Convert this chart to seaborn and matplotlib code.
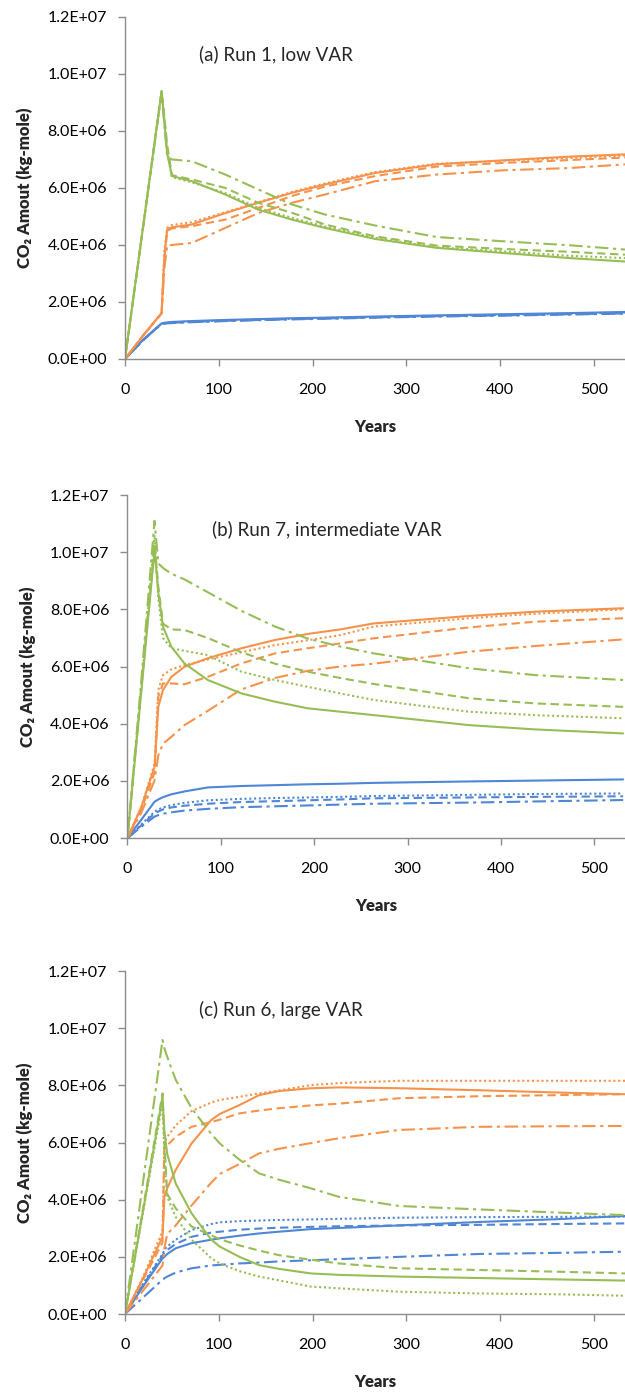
import matplotlib
matplotlib.use("Agg")
import matplotlib.pyplot as plt
from matplotlib.ticker import FuncFormatter, MultipleLocator
import pandas as pd
import seaborn as sns

# CO2 amounts are listed in millions of kg-mole
MILLION = 1e6

# ---- (a) Run 1, low VAR ----
years_a = [0, 20, 39, 42, 45, 50, 71, 107, 142, 178, 213, 267, 332, 403, 474, 533]
a_green_solid = [0, 4.82, 9.4, 8.3, 7.2, 6.42, 6.24, 5.77, 5.24, 4.89, 4.6, 4.21, 3.9, 3.72, 3.54, 3.42]
a_green_dotted = [0, 4.82, 9.4, 8.4, 7.3, 6.38, 6.2, 5.82, 5.3, 4.95, 4.65, 4.25, 3.92, 3.78, 3.62, 3.54]
a_green_dashed = [0, 4.8, 9.35, 8.5, 7.5, 6.45, 6.3, 6.0, 5.48, 5.13, 4.72, 4.3, 3.98, 3.86, 3.76, 3.66]
a_green_dashdot = [0, 4.8, 9.35, 8.2, 7.1, 7.0, 6.94, 6.47, 5.95, 5.42, 5.07, 4.68, 4.28, 4.13, 3.99, 3.84]
a_orange_solid = [0, 0.85, 1.61, 3.6, 4.55, 4.62, 4.72, 5.12, 5.48, 5.83, 6.12, 6.53, 6.83, 6.97, 7.1, 7.18]
a_orange_dotted = [0, 0.85, 1.61, 3.8, 4.6, 4.7, 4.8, 5.15, 5.5, 5.86, 6.16, 6.56, 6.85, 6.95, 7.05, 7.14]
a_orange_dashed = [0, 0.85, 1.6, 3.5, 4.5, 4.58, 4.66, 4.89, 5.3, 5.72, 6.05, 6.42, 6.75, 6.88, 6.98, 7.07]
a_orange_dashdot = [0, 0.85, 1.6, 3.2, 3.98, 4.0, 4.07, 4.6, 5.12, 5.48, 5.77, 6.24, 6.47, 6.62, 6.7, 6.83]
a_blue_solid = [0, 0.7, 1.25, 1.27, 1.28, 1.3, 1.33, 1.37, 1.4, 1.43, 1.45, 1.49, 1.53, 1.57, 1.61, 1.65]
a_blue_dotted = [0, 0.69, 1.24, 1.26, 1.27, 1.29, 1.31, 1.35, 1.38, 1.41, 1.44, 1.47, 1.51, 1.55, 1.59, 1.63]
a_blue_dashed = [0, 0.68, 1.23, 1.25, 1.26, 1.27, 1.3, 1.34, 1.37, 1.4, 1.42, 1.46, 1.5, 1.53, 1.57, 1.6]
a_blue_dashdot = [0, 0.68, 1.23, 1.24, 1.25, 1.26, 1.29, 1.33, 1.36, 1.39, 1.41, 1.45, 1.49, 1.52, 1.56, 1.59]

# ---- (b) Run 7, intermediate VAR ----
years_b = [0, 15, 29, 33, 38, 47, 61, 86, 122, 158, 193, 228, 264, 366, 437, 531]
b_green_solid = [0, 5.2, 10.08, 8.6, 7.4, 6.69, 6.11, 5.53, 5.06, 4.77, 4.54, 4.42, 4.3, 3.95, 3.8, 3.66]
b_green_dotted = [0, 5.4, 10.6, 8.4, 7.0, 6.64, 6.55, 6.4, 5.82, 5.53, 5.29, 5.06, 4.83, 4.42, 4.3, 4.19]
b_green_dashed = [0, 5.3, 10.3, 8.8, 7.5, 7.3, 7.28, 7.0, 6.5, 6.1, 5.82, 5.6, 5.39, 4.89, 4.71, 4.59]
b_green_dashdot = [0, 5.6, 11.1, 9.61, 9.45, 9.25, 9.05, 8.6, 7.95, 7.4, 6.98, 6.7, 6.46, 5.94, 5.7, 5.53]
b_orange_solid = [0, 1.1, 2.49, 4.59, 5.18, 5.64, 5.99, 6.29, 6.64, 6.93, 7.14, 7.3, 7.51, 7.77, 7.92, 8.04]
b_orange_dotted = [0, 1.1, 2.6, 5.18, 5.7, 5.9, 6.05, 6.25, 6.5, 6.75, 6.92, 7.1, 7.4, 7.69, 7.85, 8.0]
b_orange_dashed = [0, 1.0, 2.3, 4.94, 5.41, 5.41, 5.38, 5.64, 6.11, 6.46, 6.64, 6.81, 6.99, 7.37, 7.57, 7.69]
b_orange_dashdot = [0, 0.9, 2.02, 2.9, 3.3, 3.54, 3.95, 4.45, 5.2, 5.6, 5.85, 6.0, 6.1, 6.52, 6.72, 6.95]
b_blue_solid = [0, 0.65, 1.27, 1.35, 1.43, 1.53, 1.63, 1.77, 1.82, 1.85, 1.88, 1.9, 1.93, 1.98, 2.01, 2.05]
b_blue_dotted = [0, 0.48, 0.92, 1.0, 1.07, 1.15, 1.23, 1.32, 1.37, 1.4, 1.42, 1.44, 1.47, 1.51, 1.54, 1.56]
b_blue_dashed = [0, 0.45, 0.86, 0.93, 1.0, 1.07, 1.13, 1.2, 1.26, 1.29, 1.32, 1.35, 1.39, 1.42, 1.44, 1.46]
b_blue_dashdot = [0, 0.4, 0.75, 0.8, 0.85, 0.9, 0.96, 1.02, 1.08, 1.11, 1.14, 1.17, 1.2, 1.24, 1.28, 1.33]

# ---- (c) Run 6, large VAR ----
years_c = [0, 20, 40, 42, 45, 54, 71, 92, 101, 122, 143, 164, 198, 228, 292, 377, 462, 533]
c_green_solid = [0, 3.75, 7.6, 6.4, 5.6, 4.57, 3.52, 2.6, 2.36, 2.0, 1.71, 1.58, 1.42, 1.37, 1.31, 1.26, 1.21, 1.17]
c_green_dotted = [0, 3.7, 7.4, 5.5, 4.1, 3.4, 2.6, 1.95, 1.77, 1.5, 1.31, 1.18, 0.96, 0.9, 0.78, 0.72, 0.69, 0.64]
c_green_dashed = [0, 3.85, 7.72, 6.0, 4.2, 3.7, 3.06, 2.75, 2.62, 2.4, 2.22, 2.06, 1.9, 1.77, 1.6, 1.54, 1.48, 1.42]
c_green_dashdot = [0, 4.8, 9.59, 9.3, 9.0, 8.2, 7.2, 6.3, 5.97, 5.4, 4.92, 4.7, 4.4, 4.1, 3.78, 3.66, 3.55, 3.46]
c_orange_solid = [0, 1.3, 2.7, 4.1, 4.4, 5.04, 5.97, 6.79, 7.0, 7.31, 7.66, 7.8, 7.9, 7.93, 7.9, 7.83, 7.75, 7.69]
c_orange_dotted = [0, 1.35, 2.9, 6.0, 6.2, 6.6, 7.1, 7.4, 7.49, 7.6, 7.72, 7.82, 8.01, 8.08, 8.16, 8.16, 8.16, 8.16]
c_orange_dashed = [0, 1.25, 2.5, 5.8, 5.9, 6.2, 6.55, 6.72, 6.8, 7.02, 7.12, 7.2, 7.3, 7.36, 7.55, 7.62, 7.66, 7.69]
c_orange_dashdot = [0, 0.85, 1.7, 2.3, 2.8, 3.1, 3.8, 4.6, 4.9, 5.25, 5.62, 5.78, 5.98, 6.15, 6.44, 6.55, 6.57, 6.58]
c_blue_solid = [0, 1.0, 1.95, 2.0, 2.1, 2.3, 2.48, 2.6, 2.65, 2.74, 2.82, 2.88, 2.97, 3.01, 3.1, 3.22, 3.32, 3.43]
c_blue_dotted = [0, 1.1, 2.1, 2.25, 2.36, 2.6, 2.94, 3.15, 3.21, 3.25, 3.27, 3.29, 3.31, 3.33, 3.37, 3.39, 3.4, 3.41]
c_blue_dashed = [0, 1.05, 2.05, 2.15, 2.24, 2.45, 2.7, 2.85, 2.88, 2.95, 2.99, 3.02, 3.05, 3.07, 3.1, 3.12, 3.15, 3.17]
c_blue_dashdot = [0, 0.6, 1.2, 1.25, 1.31, 1.45, 1.6, 1.7, 1.72, 1.77, 1.8, 1.84, 1.88, 1.92, 2.0, 2.1, 2.14, 2.18]

panel_titles = ["(a) Run 1, low VAR", "(b) Run 7, intermediate VAR", "(c) Run 6, large VAR"]
title_anchor_years = [79, 91, 79]
title_anchor_values = [10.7, 10.8, 10.64]

palette = {"green": "#97BD55", "orange": "#F7924A", "blue": "#4F86D6"}
dashes = {"solid": "", "dotted": (1.0, 1.3), "dashed": (4.0, 2.2), "dashdot": (6.5, 2.2, 1.5, 2.2)}


def long_frame(years, series):
    rows = []
    for (pool, case), values in series.items():
        for yr, v in zip(years, values):
            rows.append((pool, case, yr, v * MILLION))
    return pd.DataFrame(rows, columns=["pool", "case", "year", "amount"])


panels = [
    (years_a, {
        ("blue", "solid"): a_blue_solid, ("blue", "dotted"): a_blue_dotted,
        ("blue", "dashed"): a_blue_dashed, ("blue", "dashdot"): a_blue_dashdot,
        ("orange", "solid"): a_orange_solid, ("orange", "dotted"): a_orange_dotted,
        ("orange", "dashed"): a_orange_dashed, ("orange", "dashdot"): a_orange_dashdot,
        ("green", "solid"): a_green_solid, ("green", "dotted"): a_green_dotted,
        ("green", "dashed"): a_green_dashed, ("green", "dashdot"): a_green_dashdot,
    }),
    (years_b, {
        ("blue", "solid"): b_blue_solid, ("blue", "dotted"): b_blue_dotted,
        ("blue", "dashed"): b_blue_dashed, ("blue", "dashdot"): b_blue_dashdot,
        ("orange", "solid"): b_orange_solid, ("orange", "dotted"): b_orange_dotted,
        ("orange", "dashed"): b_orange_dashed, ("orange", "dashdot"): b_orange_dashdot,
        ("green", "solid"): b_green_solid, ("green", "dotted"): b_green_dotted,
        ("green", "dashed"): b_green_dashed, ("green", "dashdot"): b_green_dashdot,
    }),
    (years_c, {
        ("blue", "solid"): c_blue_solid, ("blue", "dotted"): c_blue_dotted,
        ("blue", "dashed"): c_blue_dashed, ("blue", "dashdot"): c_blue_dashdot,
        ("orange", "solid"): c_orange_solid, ("orange", "dotted"): c_orange_dotted,
        ("orange", "dashed"): c_orange_dashed, ("orange", "dashdot"): c_orange_dashdot,
        ("green", "solid"): c_green_solid, ("green", "dotted"): c_green_dotted,
        ("green", "dashed"): c_green_dashed, ("green", "dashdot"): c_green_dashdot,
    }),
]

sns.set_theme(style="ticks")
plt.rcParams["font.family"] = ["Lato", "DejaVu Sans"]

fig = plt.figure(figsize=(6.25, 13.93), dpi=100)
axes_boxes = [
    [0.200, 0.7423, 0.800, 0.2455],
    [0.204, 0.3984, 0.796, 0.2462],
    [0.200, 0.0567, 0.800, 0.2462],
]

axis_grey = "#8C8C8C"
sci = FuncFormatter(lambda v, pos: f"{v:.1E}")

for box, (years, series), title, tx, ty in zip(
        axes_boxes, panels, panel_titles, title_anchor_years, title_anchor_values):
    ax = fig.add_axes(box)
    df = long_frame(years, series)
    sns.lineplot(data=df, x="year", y="amount", hue="pool", style="case",
                 palette=palette, dashes=dashes, estimator=None, sort=False,
                 linewidth=1.5, legend=False, ax=ax)
    ax.set_xlim(0, 533)
    ax.set_ylim(0, 1.2e7)
    ax.xaxis.set_major_locator(MultipleLocator(100))
    ax.yaxis.set_major_locator(MultipleLocator(2e6))
    ax.yaxis.set_major_formatter(sci)
    sns.despine(ax=ax)
    for side in ("left", "bottom"):
        ax.spines[side].set_color(axis_grey)
        ax.spines[side].set_linewidth(1.0)
    ax.tick_params(axis="both", direction="out", length=5, width=1,
                   color=axis_grey, labelsize=11.5, labelcolor="black")
    ax.tick_params(axis="x", pad=12)
    ax.tick_params(axis="y", pad=8)
    ax.set_xlabel("Years", fontsize=12, fontweight="heavy", labelpad=16)
    ax.set_ylabel("CO\u2082 Amout (kg-mole)", fontsize=12, fontweight="heavy", labelpad=10)
    ax.text(tx, ty * MILLION, title, fontsize=13.5, ha="left", va="center")

fig.savefig("out.png", dpi=100)
